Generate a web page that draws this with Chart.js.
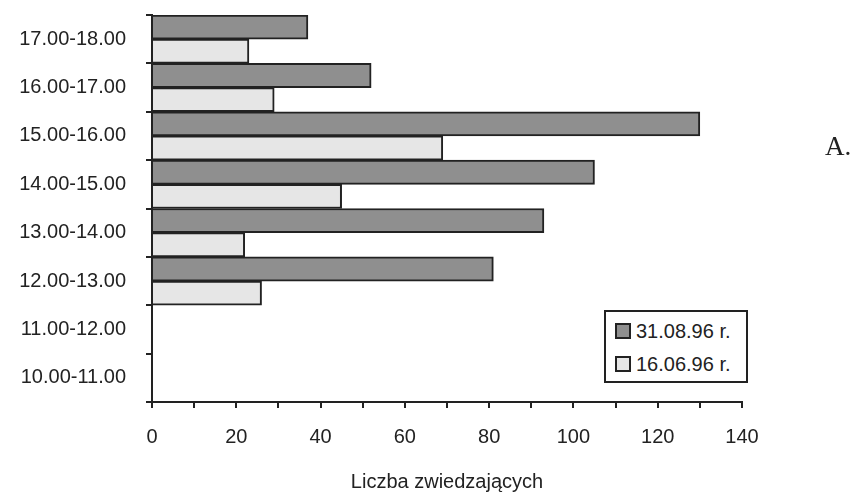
<!DOCTYPE html>
<html>
<head>
<meta charset="utf-8">
<script src="https://cdn.jsdelivr.net/npm/chart.js@4/dist/chart.umd.min.js"></script>
<style>
  html, body { margin: 0; padding: 0; background: #fff; }
  #wrap { position: relative; width: 853px; height: 495px; }
  #legend {
    position: absolute; left: 604px; top: 310px; width: 144px; height: 73px;
    border: 2px solid #222; background: #fff; box-sizing: border-box;
    font: 20px "Liberation Sans", Arial, sans-serif; color: #222;
    padding: 3px 0 0 9px;
  }
  #legend div { height: 33px; line-height: 33px; white-space: nowrap; }
  #legend i {
    display: inline-block; width: 12px; height: 12px; border: 2px solid #222;
    vertical-align: -1px; margin-right: 5px;
  }
  #tag {
    position: absolute; left: 825px; top: 131px;
    font: 27px "Liberation Serif", "Times New Roman", serif; color: #222;
  }
</style>
</head>
<body>
<div id="wrap">
  <canvas id="c" width="853" height="495"></canvas>
  <div id="legend"></div>
  <div id="tag">A.</div>
</div>
<script>
// przedziały godzinowe, od góry do dołu
const hours = ["17.00-18.00", "16.00-17.00", "15.00-16.00", "14.00-15.00",
               "13.00-14.00", "12.00-13.00", "11.00-12.00", "10.00-11.00"];
const aug31 = [37, 52, 130, 105, 93, 81, null, null];
const jun16 = [23, 29, 69, 45, 22, 26, null, null];
const seriesNames = ["31.08.96 r.", "16.06.96 r."];
const xTicks = [0, 20, 40, 60, 80, 100, 120, 140];

const INK = "#222";
const DARK = "#8f8f8f", LIGHT = "#e6e6e6";

Chart.defaults.font.family = "'Liberation Sans', Arial, sans-serif";
Chart.defaults.font.size = 20;
Chart.defaults.color = INK;

new Chart(document.getElementById("c"), {
  type: "bar",
  data: {
    labels: hours,
    datasets: [
      { label: seriesNames[0], data: aug31, backgroundColor: DARK, borderColor: INK, borderWidth: 2 },
      { label: seriesNames[1], data: jun16, backgroundColor: LIGHT, borderColor: INK, borderWidth: 2 },
    ],
  },
  options: {
    indexAxis: "y",
    responsive: false, animation: false,
    layout: { padding: { top: 15, right: 111, bottom: 1, left: 15 } },
    datasets: { bar: { categoryPercentage: 1, barPercentage: 1 } },
    plugins: { legend: { display: false }, tooltip: { enabled: false } },
    scales: {
      x: {
        min: 0, max: 140,
        border: { display: true, color: INK, width: 2 },
        grid: { drawOnChartArea: false, drawTicks: true, tickLength: 6, tickColor: INK, lineWidth: 2 },
        ticks: {
          stepSize: 10, padding: 17, maxRotation: 0, autoSkip: false,
          callback: (v) => (xTicks.includes(v) ? String(v) : ""),
        },
        title: { display: true, text: "Liczba zwiedzających", padding: { top: 21, bottom: 0 } },
        afterFit: (s) => { s.height = 92; s.paddingLeft = 0; s.paddingRight = 0; },
      },
      y: {
        border: { display: true, color: INK, width: 2 },
        grid: { drawOnChartArea: false, drawTicks: true, tickLength: 6, tickColor: INK, lineWidth: 2, offset: true },
        ticks: { padding: 20 },
        afterFit: (s) => { s.width = 137; s.paddingTop = 0; s.paddingBottom = 0; },
      },
    },
  },
});

document.getElementById("legend").innerHTML = seriesNames
  .map((n, i) => `<div><i style="background:${i ? LIGHT : DARK}"></i>${n}</div>`)
  .join("");
</script>
</body>
</html>
